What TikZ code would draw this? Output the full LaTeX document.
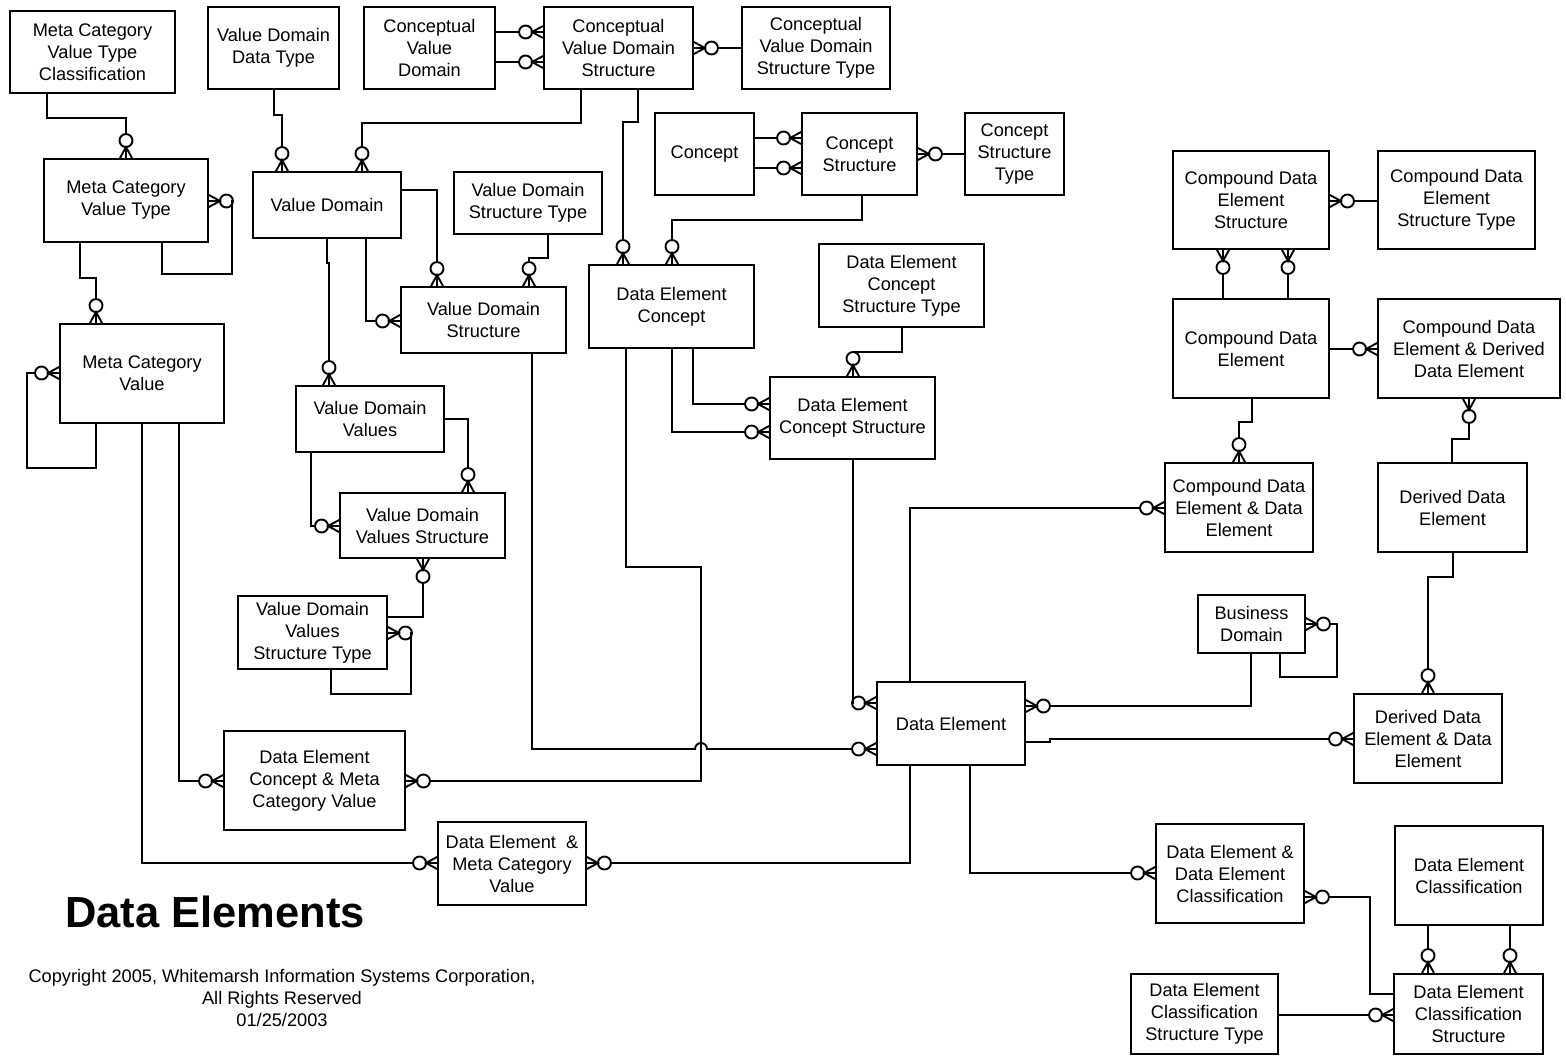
\documentclass[tikz,border=0pt]{standalone}
\usepackage{fontspec}
\setmainfont{Liberation Sans}

% zero-or-many end: open circle followed by a crow's foot at the entity border
\pgfdeclarearrow{
  name = ZM,
  setup code = {
    \pgfarrowssettipend{0pt}
    \pgfarrowssetlineend{-23.5pt}
    \pgfarrowssetbackend{-24pt}
    \pgfarrowsupperhullpoint{0pt}{6.5pt}
    \pgfarrowsupperhullpoint{-24pt}{6.5pt}
  },
  drawing code = {
    \pgfsetdash{}{0pt}
    \pgfpathmoveto{\pgfqpoint{0pt}{6pt}}
    \pgfpathlineto{\pgfqpoint{-11pt}{0pt}}
    \pgfpathlineto{\pgfqpoint{0pt}{-6pt}}
    \pgfpathmoveto{\pgfqpoint{0pt}{0pt}}
    \pgfpathlineto{\pgfqpoint{-11pt}{0pt}}
    \pgfusepathqstroke
    \pgfpathcircle{\pgfqpoint{-17.5pt}{0pt}}{6.5pt}
    \pgfusepathqstroke
  }
}

\tikzset{
  entity/.style={draw, line width=1.9pt, rectangle, align=center, inner sep=0pt,
    font=\fontsize{18.2}{22}\selectfont},
  rel/.style={line width=1.9pt},
}

% entity box from its left, top, right and bottom edges
\newcommand\entbox[6]{%
  \node[entity, minimum width={(#4-#2)*1pt}, minimum height={(#5-#3)*1pt}]
    (#1) at ({(#2+#4)/2},{(#3+#5)/2}) {#6};}

\begin{document}
\begin{tikzpicture}[x=1pt, y=-1pt]
\path[use as bounding box, fill=white] (0,0) rectangle (1566,1055);

% ---------- entities ----------
\entbox{mcvtc}{10}{11}{175}{93}{Meta Category\\Value Type\\Classification}
\entbox{vddt}{208}{7}{339}{89}{Value Domain\\Data Type}
\entbox{cvd}{364}{7}{495}{89}{Conceptual\\Value\\Domain}
\entbox{cvds}{544}{7}{693}{89}{Conceptual\\Value Domain\\Structure}
\entbox{cvdst}{742}{7}{890}{89}{Conceptual\\Value Domain\\Structure Type}
\entbox{concept}{655}{113}{754}{195}{Concept}
\entbox{cs}{802}{113}{917}{195}{Concept\\Structure}
\entbox{cst}{965}{113}{1064}{195}{Concept\\Structure\\Type}
\entbox{mcvt}{44}{159}{208}{242}{Meta Category\\Value Type}
\entbox{vd}{253}{172}{401}{238}{Value Domain}
\entbox{vdst}{454}{172}{602}{234}{Value Domain\\Structure Type}
\entbox{vds}{401}{287}{566}{353}{Value Domain\\Structure}
\entbox{dec}{589}{265}{754}{348}{Data Element\\Concept}
\entbox{decst}{819}{244}{984}{327}{Data Element\\Concept\\Structure Type}
\entbox{mcv}{60}{324}{224}{423}{Meta Category\\Value}
\entbox{decs}{770}{377}{935}{459}{Data Element\\Concept Structure}
\entbox{vdv}{296}{386}{444}{452}{Value Domain\\Values}
\entbox{vdvs}{340}{493}{505}{558}{Value Domain\\Values Structure}
\entbox{vdvst}{238}{596}{387}{669}{Value Domain\\Values\\Structure Type}
\entbox{cdes}{1173}{151}{1329}{249}{Compound Data\\Element\\Structure}
\entbox{cdest}{1378}{151}{1535}{249}{Compound Data\\Element\\Structure Type}
\entbox{cde}{1173}{299}{1329}{398}{Compound Data\\Element}
\entbox{cdedde}{1378}{299}{1560}{398}{Compound Data\\Element \& Derived\\Data Element}
\entbox{cdede}{1165}{463}{1313}{552}{Compound Data\\Element \& Data\\Element}
\entbox{dde}{1378}{463}{1527}{552}{Derived Data\\Element}
\entbox{bd}{1198}{595}{1305}{653}{Business\\Domain}
\entbox{de}{877}{682}{1025}{765}{Data Element}
\entbox{ddede}{1354}{694}{1502}{783}{Derived Data\\Element \& Data\\Element}
\entbox{decmcv}{224}{731}{405}{830}{Data Element\\Concept \& Meta\\Category Value}
\entbox{demcv}{438}{822}{586}{905}{Data Element \ \&\\Meta Category\\Value}
\entbox{dedec}{1156}{824}{1304}{923}{Data Element \&\\Data Element\\Classification}
\entbox{decl}{1395}{826}{1543}{925}{Data Element\\Classification}
\entbox{decs2}{1394}{974}{1543}{1054}{Data Element\\Classification\\Structure}
\entbox{decst2}{1131}{974}{1278}{1054}{Data Element\\Classification\\Structure Type}

% ---------- title and notice ----------
\node[font=\fontsize{43.5}{50}\selectfont\bfseries] (title) at (215,912) {Data Elements};
\node[align=center, font=\fontsize{18.2}{22}\selectfont] (notice) at (282,998)
  {Copyright 2005, Whitemarsh Information Systems Corporation,\\All Rights Reserved\\01/25/2003};

% ---------- relationships ----------
% meta category chain
\draw[rel,-ZM] (mcvtc.south -| 47,0) |- (126,118) -- (mcvt.north -| 126,0);
\draw[rel,-ZM] (mcvt.south -| 162,0) -- (162,274) -- (232,274) -- (232,201) -- (mcvt.east |- 0,201);
\draw[rel,-ZM] (mcvt.south -| 80,0) |- (96,278) -- (mcv.north -| 96,0);
\draw[rel,-ZM] (mcv.south -| 96,0) -- (96,468) -- (27,468) -- (27,373) -- (mcv.west |- 0,373);

% value domain group
\draw[rel,-ZM] (vddt.south -| 274,0) |- (282,115) -- (vd.north -| 282,0);
\draw[rel,-ZM] (cvd.east |- 0,32) -- (cvds.west |- 0,32);
\draw[rel,-ZM] (cvd.east |- 0,62) -- (cvds.west |- 0,62);
\draw[rel,-ZM] (cvdst.west |- 0,48) -- (cvds.east |- 0,48);
\draw[rel,-ZM] (cvds.south -| 581,0) |- (362,123) -- (vd.north -| 362,0);
\draw[rel,-ZM] (cvds.south -| 638,0) |- (623,122) -- (dec.north -| 623,0);
\draw[rel,-ZM] (vd.east |- 0,190) -| (vds.north -| 437,0);
\draw[rel,-ZM] (vd.south -| 366,0) |- (vds.west |- 0,321);
\draw[rel,-ZM] (vdst.south -| 548,0) |- (529,258) -- (vds.north -| 529,0);
\draw[rel,-ZM] (vd.south -| 327,0) -- (327,263) -- (329,263) -- (vdv.north -| 329,0);
\draw[rel,-ZM] (vdv.east |- 0,419) -| (vdvs.north -| 468,0);
\draw[rel,-ZM] (vdv.south -| 311,0) |- (vdvs.west |- 0,526);
\draw[rel,-ZM] (vdvst.east |- 0,617) -| (vdvs.south -| 423,0);
\draw[rel,-ZM] (vdvst.south -| 331,0) -- (331,694) -- (411,694) -- (411,633) -- (vdvst.east |- 0,633);

% concept group
\draw[rel,-ZM] (concept.east |- 0,138) -- (cs.west |- 0,138);
\draw[rel,-ZM] (concept.east |- 0,168) -- (cs.west |- 0,168);
\draw[rel,-ZM] (cst.west |- 0,154) -- (cs.east |- 0,154);
\draw[rel,-ZM] (cs.south -| 862,0) |- (672,220) -- (dec.north -| 672,0);
\draw[rel,-ZM] (dec.south -| 693,0) |- (decs.west |- 0,404);
\draw[rel,-ZM] (dec.south -| 672,0) |- (decs.west |- 0,432);
\draw[rel,-ZM] (decst.south -| 902,0) |- (853,352) -- (decs.north -| 853,0);
\draw[rel,-ZM] (decs.south -| 853,0) |- (de.west |- 0,703);
\draw[rel,-ZM] (dec.south -| 626,0) -- (626,567) -- (701,567) -- (701,781) -- (decmcv.east |- 0,781);
\draw[rel,-ZM] (vds.south -| 532,0) -- (532,749) -- (695,749)
  arc[start angle=180, end angle=0, radius=6pt] -- (de.west |- 0,749);

% meta category value links
\draw[rel,-ZM] (mcv.south -| 179,0) |- (decmcv.west |- 0,781);
\draw[rel,-ZM] (mcv.south -| 142,0) |- (demcv.west |- 0,863);
\draw[rel,-ZM] (de.south -| 910,0) |- (demcv.east |- 0,863);

% compound and derived data elements
\draw[rel,-ZM] (de.north -| 910,0) |- (cdede.west |- 0,508);
\draw[rel,-ZM] (cde.north -| 1223,0) -- (cdes.south -| 1223,0);
\draw[rel,-ZM] (cde.north -| 1288,0) -- (cdes.south -| 1288,0);
\draw[rel,-ZM] (cdest.west |- 0,201) -- (cdes.east |- 0,201);
\draw[rel,-ZM] (cde.east |- 0,349) -- (cdedde.west |- 0,349);
\draw[rel,-ZM] (cde.south -| 1252,0) |- (1239,422) -- (cdede.north -| 1239,0);
\draw[rel,-ZM] (dde.north -| 1452,0) |- (1469,439) -- (cdedde.south -| 1469,0);
\draw[rel,-ZM] (dde.south -| 1453,0) |- (1428,577) -- (ddede.north -| 1428,0);
\draw[rel,-ZM] (de.east |- 0,742) -- (1050,742) -- (1050,739) -- (ddede.west |- 0,739);

% business domain
\draw[rel,-ZM] (bd.south -| 1251,0) |- (de.east |- 0,706);
\draw[rel,-ZM] (bd.south -| 1280,0) -- (1280,677) -- (1337,677) -- (1337,624) -- (bd.east |- 0,624);

% classification
\draw[rel,-ZM] (de.south -| 970,0) |- (dedec.west |- 0,873);
\draw[rel,-ZM] (decs2.west |- 0,994) -- (1370,994) -- (1370,897) -- (dedec.east |- 0,897);
\draw[rel,-ZM] (decl.south -| 1428,0) -- (decs2.north -| 1428,0);
\draw[rel,-ZM] (decl.south -| 1510,0) -- (decs2.north -| 1510,0);
\draw[rel,-ZM] (decst2.east |- 0,1015) -- (decs2.west |- 0,1015);
\end{tikzpicture}
\end{document}
